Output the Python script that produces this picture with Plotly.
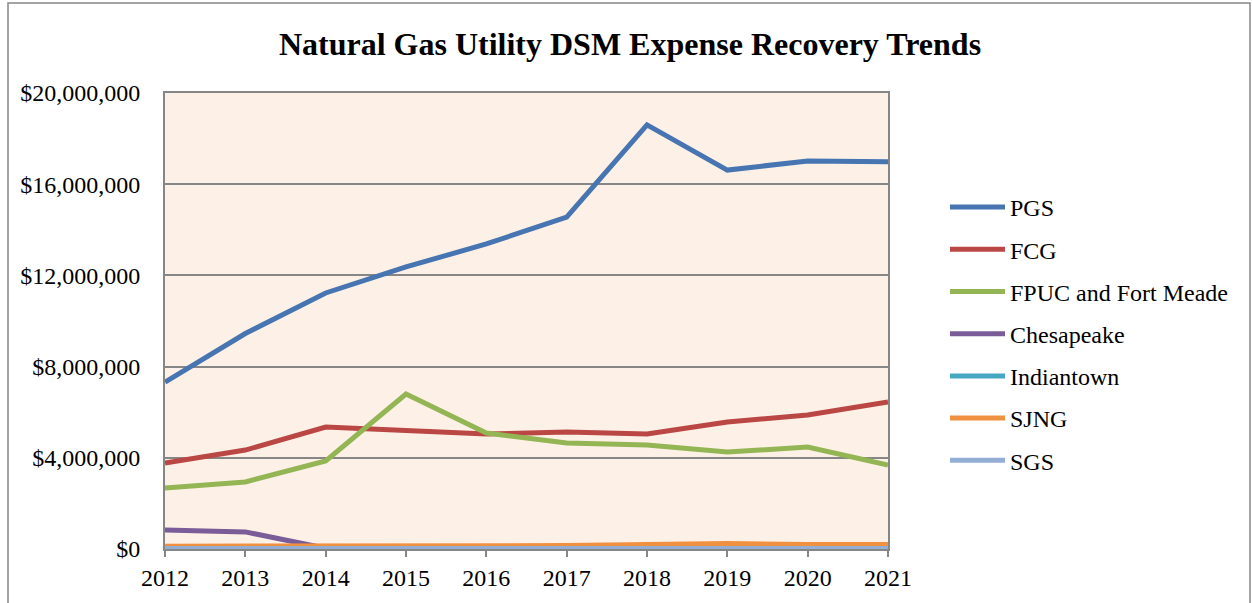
import plotly.graph_objects as go

years = [2012, 2013, 2014, 2015, 2016, 2017, 2018, 2019, 2020, 2021]

pgs = [7.32e6, 9.45e6, 11.23e6, 12.37e6, 13.38e6, 14.56e6, 18.60e6, 16.62e6, 17.02e6, 16.99e6]
fcg = [3.77e6, 4.34e6, 5.35e6, 5.22e6, 5.04e6, 5.13e6, 5.04e6, 5.57e6, 5.88e6, 6.45e6]
fpuc = [2.68e6, 2.94e6, 3.86e6, 6.80e6, 5.09e6, 4.65e6, 4.56e6, 4.25e6, 4.47e6, 3.68e6]
chesapeake = [0.83e6, 0.75e6, 0.03e6, 0.03e6, 0.03e6, 0.03e6, 0.03e6, 0.03e6, 0.03e6, 0.03e6]
indiantown = [0.03e6, 0.03e6, 0.03e6, 0.03e6, 0.03e6, 0.03e6, 0.03e6, 0.03e6, 0.03e6, 0.03e6]
sjng = [0.12e6, 0.12e6, 0.13e6, 0.13e6, 0.15e6, 0.15e6, 0.20e6, 0.24e6, 0.20e6, 0.20e6]
sgs = [0.02e6, 0.02e6, 0.02e6, 0.02e6, 0.02e6, 0.02e6, 0.02e6, 0.02e6, 0.02e6, 0.02e6]

series_names = ["PGS", "FCG", "FPUC and Fort Meade", "Chesapeake", "Indiantown", "SJNG", "SGS"]
series_values = [pgs, fcg, fpuc, chesapeake, indiantown, sjng, sgs]
series_colors = ["#4775B2", "#BA4744", "#93B553", "#7A5C98", "#45A7C2", "#F09142", "#93AED4"]

y_ticks = [0, 4e6, 8e6, 12e6, 16e6, 20e6]
y_ticklabels = ["${:,.0f}".format(v) for v in y_ticks]

W, H = 1252, 603
L, R, T, B = 165, 888, 93, 549
FONT = "Liberation Serif, Times New Roman, serif"

fig = go.Figure()
for name, vals, col in zip(series_names, series_values, series_colors):
    fig.add_trace(go.Scatter(
        x=years, y=vals, name=name, mode="lines",
        line=dict(color=col, width=5),
        legendgroup=name,
    ))

def px_x(p):
    return (p - L) / (R - L)

def px_y(p):
    return (B - p) / (B - T)

fig.update_layout(
    width=W, height=H,
    margin=dict(l=L, r=W - R, t=T, b=H - B, pad=0),
    paper_bgcolor="white",
    plot_bgcolor="#FDF1E7",
    font=dict(family=FONT, color="black", size=24),
    title=dict(
        text="<b>Natural Gas Utility DSM Expense Recovery Trends</b>",
        x=630 / W, xanchor="center", y=1 - 44 / H, yanchor="middle",
        font=dict(family=FONT, size=32, color="black"),
    ),
    showlegend=True,
    legend=dict(
        x=px_x(945), xanchor="left", y=px_y(185), yanchor="top",
        font=dict(family=FONT, size=24, color="black"),
        bgcolor="rgba(0,0,0,0)",
        itemwidth=55,
        tracegroupgap=8,
        traceorder="grouped",
    ),
    xaxis=dict(
        range=[2012, 2021],
        tickvals=years, ticktext=[str(y) for y in years],
        showgrid=False, zeroline=False,
        showline=True, linecolor="#868686", linewidth=2, mirror=True,
        ticks="outside", ticklen=6, tickcolor="#868686", tickwidth=1.5,
        tickfont=dict(size=24),
    ),
    yaxis=dict(
        range=[0, 20e6],
        tickvals=y_ticks, ticktext=y_ticklabels,
        showgrid=True, gridcolor="#868686", gridwidth=1.5,
        zeroline=False,
        showline=True, linecolor="#868686", linewidth=2, mirror=True,
        ticks="", ticklen=0,
        ticklabelstandoff=18,
        tickfont=dict(size=24),
    ),
    shapes=[dict(
        type="rect", xref="paper", yref="paper",
        x0=px_x(8), x1=px_x(1250), y0=px_y(650), y1=px_y(3),
        line=dict(color="#868686", width=1.5), fillcolor="rgba(0,0,0,0)",
        layer="below",
    )],
)

fig.write_html(
    "out.html",
    config={"displayModeBar": False},
    post_script="document.body.style.margin='0';document.body.style.overflow='hidden';",
)
